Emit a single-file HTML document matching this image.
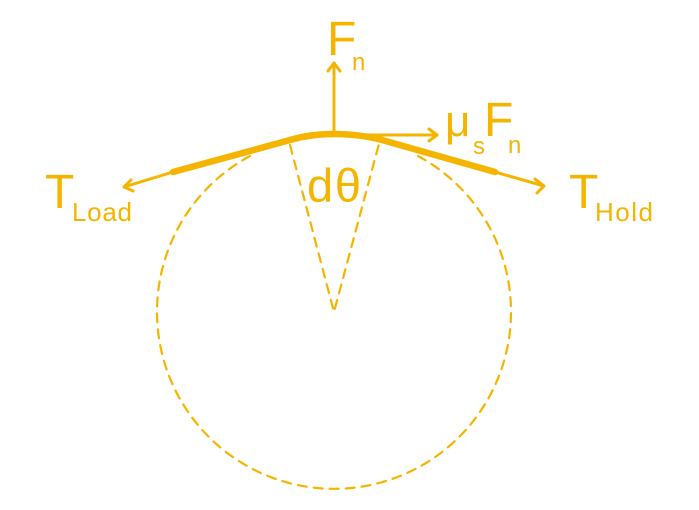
<!DOCTYPE html>
<html><head><style>
html,body{margin:0;padding:0;background:#fff;}
svg{display:block;}
text{font-family:"Liberation Sans","DejaVu Sans",sans-serif;fill:#f5b400;}
</style></head><body>
<svg width="699" height="510" viewBox="0 0 699 510" xmlns="http://www.w3.org/2000/svg">
<g stroke="#f5b400" fill="none" stroke-linecap="round" stroke-linejoin="round">
<path d="M250,156 A177,177 0 1 0 418,156" stroke-width="2.2" stroke-dasharray="9,7"/>
<path d="M290,145 L334,312 L380,140" stroke-width="2.2" stroke-dasharray="9,7"/>
<path d="M173,172 L290,140 Q310,134 334,134 Q360,134 382,140 L495,172" stroke-width="6.5"/>
<line x1="173" y1="172" x2="124" y2="187" stroke-width="3"/>
<path d="M131,180 L124,187 L133,191" stroke-width="3"/>
<line x1="495" y1="172" x2="544" y2="186" stroke-width="3"/>
<path d="M535,179 L544,186 L537,193" stroke-width="3"/>
<line x1="334" y1="134" x2="334" y2="63" stroke-width="3"/>
<path d="M328,71 L334,63 L340,71" stroke-width="3"/>
<line x1="334" y1="135" x2="437" y2="135" stroke-width="3"/>
<path d="M429,129 L437,135 L429,141" stroke-width="3"/>
</g>
<text x="327" y="55" font-size="48">F</text>
<text x="352" y="70" font-size="24">n</text>
<text x="445" y="136" font-size="44">μ</text>
<text x="473" y="154" font-size="24">s</text>
<text x="484" y="136" font-size="48">F</text>
<text x="508" y="153" font-size="24">n</text>
<text x="307" y="202" font-size="47" textLength="54">dθ</text>
<text x="45" y="208" font-size="48">T</text>
<text x="72" y="221" font-size="26" textLength="60">Load</text>
<text x="569" y="208" font-size="48">T</text>
<text x="595" y="221" font-size="26" textLength="58">Hold</text>
</svg>
</body></html>
